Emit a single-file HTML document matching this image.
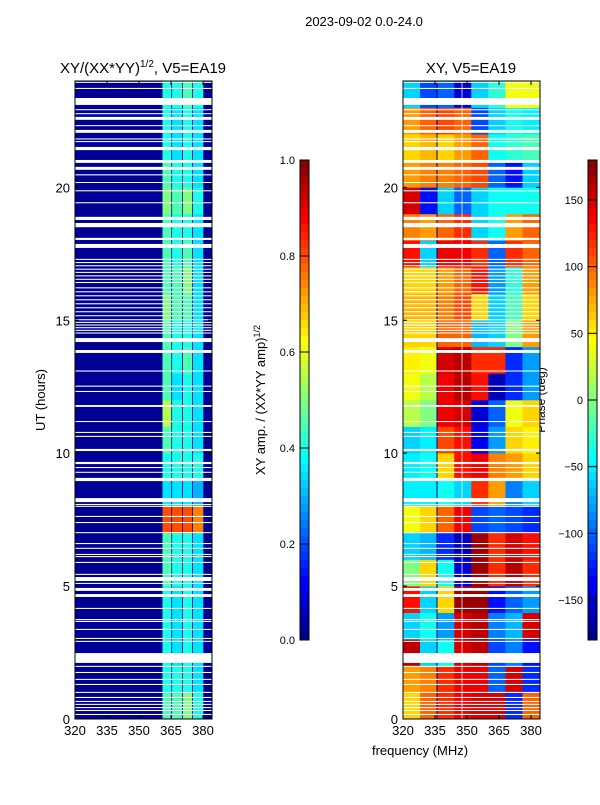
<!DOCTYPE html>
<html><head><meta charset="utf-8"><style>
body{margin:0;background:#fff;}
svg text{font-family:"Liberation Sans",sans-serif;fill:#000;}
</style></head><body>
<svg id="c" width="600" height="800" xmlns="http://www.w3.org/2000/svg">
<text x="364" y="26" font-size="13" text-anchor="middle">2023-09-02 0.0-24.0</text>
<text x="143" y="73" font-size="15" text-anchor="middle">XY/(XX*YY)<tspan font-size="10" dy="-6">1/2</tspan><tspan dy="6">, V5=EA19</tspan></text>
<text x="471" y="73" font-size="15" text-anchor="middle">XY, V5=EA19</text>
<text transform="translate(45,400) rotate(-90)" font-size="13" text-anchor="middle">UT (hours)</text>
<text x="420" y="755" font-size="13" text-anchor="middle">frequency (MHz)</text>
<text transform="translate(265,400) rotate(-90)" font-size="13" text-anchor="middle">XY amp. / (XX*YY amp)<tspan font-size="9" dy="-5">1/2</tspan></text>
<text transform="translate(545,400) rotate(-90)" font-size="12" text-anchor="middle">Phase (deg)</text>
<g id="g"></g>
</svg>
<script>
const hours = [0,1,2,3,4,5,6,7,8,9,10,11,12,13,14,15,16,17,18,19,20,21,22,23];
const ampBands = [[361,365.5],[365.5,370.6],[370.6,375.3],[375.3,380.5]];
const ampBand1 = [0.45,0.4,0.4,0.4,0.4,0.45,0.45,0.8,0.35,0.4,0.45,0.55,0.45,0.45,0.45,0.5,0.45,0.45,0.45,0.5,0.45,0.4,0.4,0.4];
const ampBand2 = [0.45,0.4,0.35,0.35,0.35,0.4,0.4,0.8,0.35,0.4,0.4,0.4,0.35,0.4,0.4,0.45,0.45,0.4,0.4,0.45,0.4,0.35,0.35,0.4];
const ampBand3 = [0.5,0.4,0.4,0.4,0.4,0.4,0.4,0.8,0.35,0.4,0.4,0.4,0.4,0.45,0.4,0.45,0.5,0.45,0.4,0.5,0.4,0.4,0.4,0.45];
const ampBand4 = [0.4,0.35,0.35,0.35,0.35,0.35,0.35,0.75,0.3,0.4,0.35,0.35,0.35,0.35,0.35,0.35,0.35,0.35,0.35,0.4,0.35,0.35,0.35,0.4];
const ampBase = 0.02;
const phaseCols = [320,328,336,344,352,360,368,376];
const phaseRows = [
[60,100,120,140,150,150,-120,100],
[80,90,120,140,140,-100,150,-120],
[160,-60,-40,150,160,-110,-90,-130],
[-60,-40,-80,150,160,-90,-70,150],
[130,-60,60,170,170,-130,-100,-80],
[0,60,-40,-150,170,120,160,120],
[-60,-70,-120,-160,170,120,150,130],
[40,60,100,140,-110,-100,-110,-120],
[-50,-50,-40,-60,120,80,-90,-60],
[-50,-40,60,130,140,90,80,60],
[-60,-50,110,130,-140,-80,60,50],
[20,0,140,150,-150,-100,40,60],
[40,20,140,160,130,-160,-120,-80],
[50,40,150,160,120,120,-120,-80],
[60,60,100,100,-70,-60,0,80],
[70,70,90,110,60,-60,-20,60],
[60,60,80,100,130,-80,-30,80],
[130,-60,140,140,120,-100,120,100],
[90,80,100,120,-60,-40,80,100],
[150,-130,-60,-100,-60,-40,-40,-40],
[80,90,90,100,110,-100,-130,-60],
[60,70,60,80,100,-40,-30,-20],
[80,100,110,100,-110,-60,-40,-50],
[-60,-110,-100,-150,-60,-30,40,40]];
const gapStarts = [0.15,0.30,0.41,0.53,0.64,0.79,0.98,1.28,1.47,1.73,1.96,2.11,2.14,2.90,3.01,3.35,3.65,3.72,4.14,4.59,4.82,5.08,5.19,5.42,5.87,6.09,6.17,6.40,6.58,6.99,7.37,7.60,7.98,8.05,8.16,8.95,9.26,9.44,9.59,10.08,10.61,10.76,11.17,11.74,12.30,12.50,13.07,13.77,14.18,14.5,14.6,14.7,14.8,14.9,15.0,15.15,15.3,15.45,15.6,15.75,15.9,16.05,16.2,16.4,16.52,16.65,16.78,16.9,17.03,17.15,17.27,17.72,18.02,18.5,18.77,19.4,19.85,20.17,20.45,20.66,20.92,21.4,21.7,21.8,22.05,22.3,22.54,22.75,22.9,23.1,23.7,23.93];
const gapEnds   = [0.19,0.34,0.45,0.57,0.68,0.83,1.02,1.32,1.51,1.77,2.00,2.15,2.48,2.94,3.05,3.39,3.69,3.76,4.18,4.70,4.93,5.12,5.34,5.46,5.91,6.13,6.21,6.44,6.62,7.03,7.41,7.64,8.02,8.09,8.31,9.07,9.30,9.48,9.67,10.16,10.65,10.80,11.21,11.81,12.34,12.54,13.11,13.88,14.33,14.54,14.64,14.74,14.84,14.94,15.04,15.19,15.34,15.49,15.64,15.79,15.94,16.09,16.24,16.44,16.56,16.69,16.82,16.94,17.07,17.19,17.31,17.87,18.10,18.66,18.89,19.44,19.89,20.20,20.49,20.77,21.03,21.52,21.74,21.84,22.16,22.34,22.65,22.79,22.94,23.36,23.74,23.97];
const xTicks = [320,335,350,365,380];
const yTicks = [0,5,10,15,20];
const ampTicks = [0.0,0.2,0.4,0.6,0.8,1.0];
const phaseTicks = [-150,-100,-50,0,50,100,150];

const NS="http://www.w3.org/2000/svg";
const g=document.getElementById('g');
function mk(t,a,p){const e=document.createElementNS(NS,t);for(const k in a)e.setAttribute(k,a[k]);(p||g).appendChild(e);return e;}
function cl(v){return Math.max(0,Math.min(1,v));}
function jet(v){v=cl(v);const r=cl(1.5-Math.abs(4*v-3)),gg=cl(1.5-Math.abs(4*v-2)),b=cl(1.5-Math.abs(4*v-1));return `rgb(${Math.round(r*255)},${Math.round(gg*255)},${Math.round(b*255)})`;}
const F0=320,F1=384.2,TOP=81,BOT=719;
function yS(h){return BOT-(h/24)*(BOT-TOP);}
function xS(x0,f){return x0+(f-F0)/(F1-F0)*137;}
const panels=[{x0:75,name:'amp'},{x0:403,name:'phase'}];
const ampArrs=[ampBand1,ampBand2,ampBand3,ampBand4];

panels.forEach(p=>{
  const pg=mk('g',{});
  
  
  if(p.name==='amp'){
    const bg=mk('rect',{x:p.x0,y:TOP,width:137,height:BOT-TOP,fill:jet(ampBase)},pg);
    
    
    ampBands.forEach((bd,bi)=>{
      hours.forEach((h,hi)=>{
        const x1=xS(p.x0,bd[0]),x2=xS(p.x0,bd[1]);
        const r=mk('rect',{x:x1,y:yS(h+1),width:x2-x1-0.8,height:yS(h)-yS(h+1)+0.3,fill:jet(ampArrs[bi][hi])},pg);
        
        
      });
    });
  } else {
    phaseRows.forEach((row,hi)=>{
      row.forEach((v,ci)=>{
        const f1=phaseCols[ci], f2=ci+1<phaseCols.length?phaseCols[ci+1]:F1;
        const x1=xS(p.x0,f1),x2=xS(p.x0,f2);
        const r=mk('rect',{x:x1,y:yS(hours[hi]+1),width:x2-x1+0.3,height:yS(hours[hi])-yS(hours[hi]+1)+0.3,fill:jet((v+180)/360)},pg);
        
        
      });
    });
    mk('line',{x1:437,y1:TOP,x2:437,y2:BOT,stroke:'#00007f','stroke-width':1},pg);
    mk('line',{x1:462,y1:TOP,x2:462,y2:BOT,stroke:'#fff','stroke-width':1,opacity:0.7},pg);
  }
  gapStarts.forEach((s,i)=>{
    const r=mk('rect',{x:p.x0,y:yS(gapEnds[i]),width:137,height:Math.max(1,yS(s)-yS(gapEnds[i])),fill:'#fff'},pg);
    
    
  });
  const fr=mk('rect',{x:p.x0,y:TOP,width:137,height:BOT-TOP,fill:'none',stroke:'#000','stroke-width':1});
  
  
  xTicks.forEach(t=>{
    const x=xS(p.x0,t);
    mk('line',{x1:x,y1:BOT,x2:x,y2:BOT-4,stroke:'#000'});
    mk('line',{x1:x,y1:TOP,x2:x,y2:TOP+4,stroke:'#000'});
    const tx=mk('text',{x:x,y:BOT+16,'font-size':13,'text-anchor':'middle'});
    tx.textContent=t;
    
    
  });
  yTicks.forEach(t=>{
    const y=yS(t);
    mk('line',{x1:p.x0,y1:y,x2:p.x0+4,y2:y,stroke:'#000'});
    mk('line',{x1:p.x0+137,y1:y,x2:p.x0+133,y2:y,stroke:'#000'});
    const tx=mk('text',{x:p.x0-5,y:y+5,'font-size':13,'text-anchor':'end'});
    tx.textContent=t;
    
    
  });
});

function colorbar(x,ticks,lo,hi,name,fmt){
  const cg=mk('g',{});
  
  
  const T=160,B=640,N=60;
  for(let i=0;i<N;i++){
    mk('rect',{x:x,y:B-(i+1)*(B-T)/N,width:9,height:(B-T)/N+0.5,fill:jet((i+0.5)/N)},cg);
  }
  mk('rect',{x:x,y:T,width:9,height:B-T,fill:'none',stroke:'#000','stroke-width':1},cg);
  ticks.forEach(t=>{
    const y=B-(t-lo)/(hi-lo)*(B-T);
    mk('line',{x1:x,y1:y,x2:x+9,y2:y,stroke:'#000'},cg);
    const tx=mk('text',{x:x-5,y:y+4,'font-size':11,'text-anchor':'end'},cg);
    tx.textContent=fmt(t);
    
    
  });
}
colorbar(300,ampTicks,0,1,'amp-colorbar',t=>t.toFixed(1));
colorbar(588,phaseTicks,-180,180,'phase-colorbar',t=>t<0?'\u2212'+(-t):String(t));
</script>
</body></html>
